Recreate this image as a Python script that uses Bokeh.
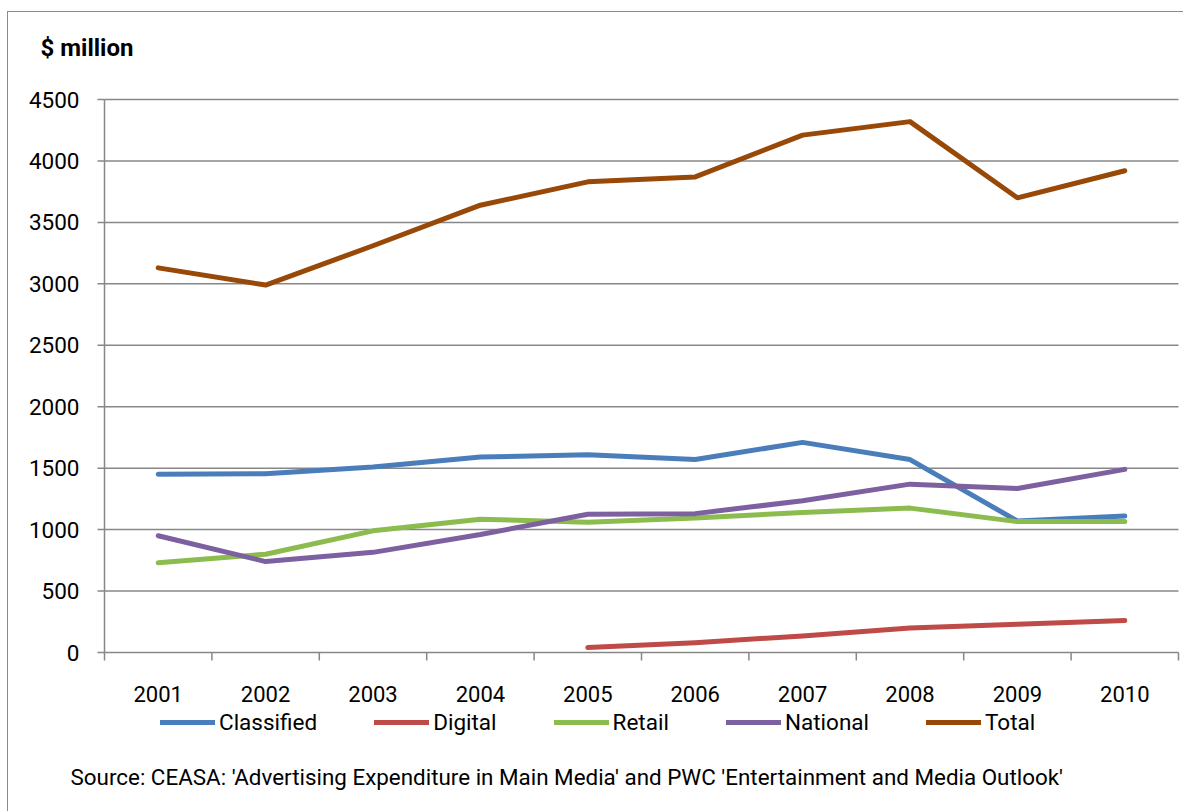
import math
from bokeh.plotting import figure
from bokeh.models import Legend, LegendItem, Label, Range1d
from bokeh.core.properties import value
from bokeh.embed import file_html
from bokeh.resources import INLINE

years = ["2001", "2002", "2003", "2004", "2005", "2006", "2007", "2008", "2009", "2010"]
classified = [1450, 1455, 1510, 1590, 1610, 1570, 1710, 1570, 1070, 1110]
digital = [math.nan, math.nan, math.nan, math.nan, 40, 80, 135, 200, 230, 260]
retail = [730, 800, 990, 1085, 1060, 1095, 1140, 1175, 1065, 1065]
national = [950, 740, 815, 960, 1125, 1130, 1235, 1370, 1335, 1490]
total = [3130, 2990, 3310, 3640, 3830, 3870, 4210, 4320, 3700, 3920]
y_ticks = [0, 500, 1000, 1500, 2000, 2500, 3000, 3500, 4000, 4500]
y_tick_labels = [str(t) for t in y_ticks]

series_names = ["Classified", "Digital", "Retail", "National", "Total"]
series_values = [classified, digital, retail, national, total]
colors = ["#4A7EBB", "#BE4B48", "#8CBB4E", "#7D60A0", "#984807"]

FONT = "Roboto"
GRID = "#878787"

# ---- layout (page pixels) ----
W, H = 1176, 800                 # canvas size
CANVAS_L, CANVAS_T = 8, 12       # canvas origin on page
PLOT_L, PLOT_R = 104, 1178       # x = 0 and x = n categories
PLOT_T, PLOT_B = 99, 652         # y = 4500 and y = 0

n = len(years)
y_top = y_ticks[-1]
px_x = (PLOT_R - PLOT_L) / n
px_y = (PLOT_B - PLOT_T) / y_top
x_start = -(PLOT_L - CANVAS_L) / px_x
x_end = n + (CANVAS_L + W - PLOT_R) / px_x
y_end = y_top + (PLOT_T - CANVAS_T) / px_y
y_start = -(CANVAS_T + H - PLOT_B) / px_y

p = figure(width=W, height=H, output_backend="svg", toolbar_location=None,
           x_range=Range1d(x_start, x_end), y_range=Range1d(y_start, y_end),
           x_axis_location=None, y_axis_location=None,
           min_border_left=0, min_border_right=0, min_border_top=0, min_border_bottom=0)
p.styles = {"border-left": "1px solid #8a8a8a", "border-top": "1px solid #8a8a8a",
            "margin-left": "7px", "margin-top": "11px"}
p.outline_line_color = None
p.background_fill_color = "white"
p.border_fill_color = "white"
for g in p.grid:
    g.visible = False
p.xgrid.grid_line_color = None
p.ygrid.grid_line_color = None

x_pos = [i + 0.5 for i in range(n)]
bounds = list(range(n + 1))

# horizontal grid lines
p.segment(x0=[0] * len(y_ticks), x1=[n] * len(y_ticks), y0=y_ticks, y1=y_ticks,
          line_color=GRID, line_width=1.5)
# y axis line and ticks
p.segment(x0=[0], x1=[0], y0=[0], y1=[y_top], line_color=GRID, line_width=1.5)
p.ray(x=[0] * len(y_ticks), y=y_ticks, length=7, length_units="screen",
      angle=math.pi, line_color=GRID, line_width=1.5)
p.text(x=[0] * len(y_ticks), y=y_ticks, text=y_tick_labels, x_offset=-25,
       text_align="right", text_baseline="middle", text_font=value(FONT),
       text_font_size="22.5px", text_color="black")
# x axis ticks at category boundaries and year labels
p.ray(x=bounds, y=[0] * len(bounds), length=8, length_units="screen",
      angle=-math.pi / 2, line_color=GRID, line_width=1.5)
p.text(x=x_pos, y=[0] * n, text=years, y_offset=41,
       text_align="center", text_baseline="middle", text_font=value(FONT),
       text_font_size="22px", text_color="black")

items = []
for name, vals, col in zip(series_names, series_values, colors):
    r = p.line(x_pos, vals, line_color=col, line_width=5,
               line_cap="round", line_join="round")
    items.append(LegendItem(label=name, renderers=[r]))

LEG_H = 26
legend = Legend(items=items, orientation="horizontal",
                location=(160 - CANVAS_L, CANVAS_T + H - (722 + LEG_H // 2)),
                glyph_width=55, glyph_height=LEG_H, label_standoff=4, spacing=57,
                label_text_font=FONT, label_text_font_size="22.5px",
                label_text_color="black", label_height=LEG_H,
                padding=0, margin=0, border_line_color=None,
                background_fill_alpha=0)
p.add_layout(legend)

p.add_layout(Label(x=40 - CANVAS_L, y=CANVAS_T + H - 47, x_units="screen", y_units="screen",
                   text="$ million", text_font=FONT, text_font_style="bold",
                   text_font_size="24px", text_baseline="middle", text_color="black"))
p.add_layout(Label(x=70 - CANVAS_L, y=CANVAS_T + H - 776, x_units="screen", y_units="screen",
                   text="Source: CEASA: 'Advertising Expenditure in Main Media' and PWC 'Entertainment and  Media Outlook'",
                   text_font=FONT, text_font_size="22.4px", text_baseline="middle",
                   text_color="black"))

open("out.html", "w").write(file_html(p, INLINE))
